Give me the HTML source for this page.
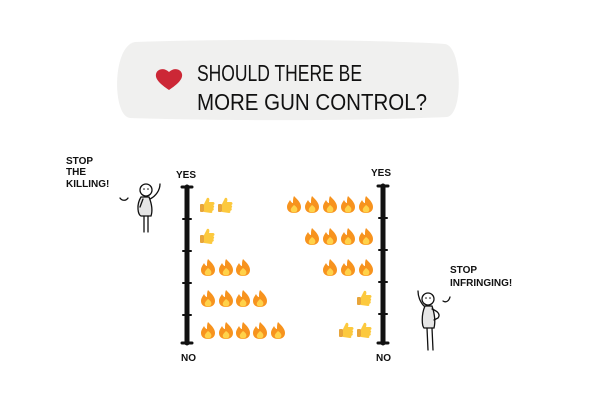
<!DOCTYPE html>
<html><head><meta charset="utf-8"><style>
html,body{margin:0;padding:0;background:#fff;}
svg{display:block;}
text{font-family:"Liberation Sans",sans-serif;fill:#111;}
</style></head><body>
<svg width="600" height="403" viewBox="0 0 600 403" xmlns="http://www.w3.org/2000/svg">
<defs>
<g id="f">
<path d="M0,-8 C4,-4 7,-1 7,3 C7,7 4,9 0,9 C-4,9 -7,7 -7,3 C-7,0 -5,-2 -4,-4 C-3,-2 -2,-1 -1,-1 C-1,-4 -1,-6 0,-8Z" fill="#f7931e"/>
<path d="M0,1 C3,3 4,5 3,7 C2,9 -2,9 -3,7 C-4,5 -2,3 0,1Z" fill="#ffd24a"/>
</g>
<g id="t">
<rect x="-7" y="-1" width="4" height="8" rx="1" fill="#e8a53a"/>
<path d="M-3,-1 L0,-7 C2,-8 3,-6 2,-3 L6,-3 C8,-3 8,0 6,0 C8,1 7,3 6,3 C8,4 6,6 5,6 C6,7 5,8 4,8 L-3,7Z" fill="#fcc93e"/>
</g>
</defs>
<!-- banner -->
<path d="M135,42 C250,38 380,40 445,44 C462,46 464,114 447,117 C360,121 220,121 130,118 C112,116 112,46 135,42Z" fill="#f0f0ef"/>
<path d="M169,90 C160,84 155,79 156,74 C157,69 164,67 169,72 C174,67 181,69 182,74 C183,79 178,84 169,90Z" fill="#cc2736"/>
<text x="197" y="81" font-size="23" textLength="165" lengthAdjust="spacingAndGlyphs">SHOULD THERE BE</text>
<text x="197" y="110" font-size="23" textLength="230" lengthAdjust="spacingAndGlyphs">MORE GUN CONTROL?</text>
<!-- axes -->
<g stroke="#111" stroke-linecap="round">
<line x1="187" y1="187" x2="187" y2="343" stroke-width="5"/>
<line x1="182" y1="187" x2="192" y2="187" stroke-width="3"/>
<line x1="182" y1="343" x2="192" y2="343" stroke-width="3"/>
<line x1="183" y1="219" x2="191" y2="219" stroke-width="2"/>
<line x1="183" y1="251" x2="191" y2="251" stroke-width="2"/>
<line x1="183" y1="283" x2="191" y2="283" stroke-width="2"/>
<line x1="183" y1="315" x2="191" y2="315" stroke-width="2"/>
<line x1="383" y1="186" x2="383" y2="343" stroke-width="5"/>
<line x1="378" y1="186" x2="388" y2="186" stroke-width="3"/>
<line x1="378" y1="343" x2="388" y2="343" stroke-width="3"/>
<line x1="379" y1="218" x2="387" y2="218" stroke-width="2"/>
<line x1="379" y1="250" x2="387" y2="250" stroke-width="2"/>
<line x1="379" y1="282" x2="387" y2="282" stroke-width="2"/>
<line x1="379" y1="314" x2="387" y2="314" stroke-width="2"/>
</g>
<text x="176" y="178" font-size="10" font-weight="bold">YES</text>
<text x="181" y="361" font-size="10" font-weight="bold">NO</text>
<text x="371" y="176" font-size="10" font-weight="bold">YES</text>
<text x="376" y="361" font-size="10" font-weight="bold">NO</text>
<!-- left items -->
<use href="#t" x="207" y="205"/><use href="#t" x="225" y="205"/>
<use href="#t" x="207" y="236"/>
<use href="#f" x="208" y="267"/><use href="#f" x="226" y="267"/><use href="#f" x="243" y="267"/>
<use href="#f" x="208" y="298"/><use href="#f" x="226" y="298"/><use href="#f" x="243" y="298"/><use href="#f" x="260" y="298"/>
<use href="#f" x="208" y="330"/><use href="#f" x="226" y="330"/><use href="#f" x="243" y="330"/><use href="#f" x="260" y="330"/><use href="#f" x="278" y="330"/>
<!-- right items -->
<use href="#f" x="294" y="204"/><use href="#f" x="312" y="204"/><use href="#f" x="330" y="204"/><use href="#f" x="348" y="204"/><use href="#f" x="366" y="204"/>
<use href="#f" x="312" y="236"/><use href="#f" x="330" y="236"/><use href="#f" x="348" y="236"/><use href="#f" x="366" y="236"/>
<use href="#f" x="330" y="267"/><use href="#f" x="348" y="267"/><use href="#f" x="366" y="267"/>
<use href="#t" x="364" y="298"/>
<use href="#t" x="346" y="330"/><use href="#t" x="364" y="330"/>
<!-- left person -->
<text x="66" y="164" font-size="10" font-weight="bold">STOP</text>
<text x="66" y="175" font-size="10" font-weight="bold">THE</text>
<text x="66" y="187" font-size="10" font-weight="bold">KILLING!</text>
<g fill="none" stroke="#111" stroke-width="1.3" stroke-linecap="round">
<path d="M120,198 C122,201 126,201 128,198"/>
<circle cx="146" cy="190" r="6" fill="#fff"/>
<path d="M141,197 C136,205 138,215 141,216 L151,216 C153,210 151,202 149,197Z" fill="#e6e6e6"/>
<path d="M144,216 L144,232 M148,216 L148,232"/>
<path d="M150,199 C156,196 160,190 160,184"/>
<path d="M143,199 L140,207"/>
</g>
<circle cx="144" cy="189" r="0.8" fill="#111"/><circle cx="148" cy="189" r="0.8" fill="#111"/>
<!-- right person -->
<text x="450" y="273" font-size="10" font-weight="bold">STOP</text>
<text x="450" y="286" font-size="10" font-weight="bold">INFRINGING!</text>
<g fill="none" stroke="#111" stroke-width="1.3" stroke-linecap="round">
<path d="M443,301 C446,303 449,301 450,297"/>
<circle cx="428" cy="299" r="6" fill="#fff"/>
<path d="M425,306 C421,315 422,326 424,328 L434,328 C436,320 434,312 432,306Z" fill="#e6e6e6"/>
<path d="M427,328 L428,350 M432,328 L433,350"/>
<path d="M424,306 C420,302 418,296 418,291"/>
<path d="M432,309 C437,311 441,314 438,318 L434,320"/>
</g>
<circle cx="426" cy="298" r="0.8" fill="#111"/><circle cx="430" cy="298" r="0.8" fill="#111"/>
</svg>
</body></html>
